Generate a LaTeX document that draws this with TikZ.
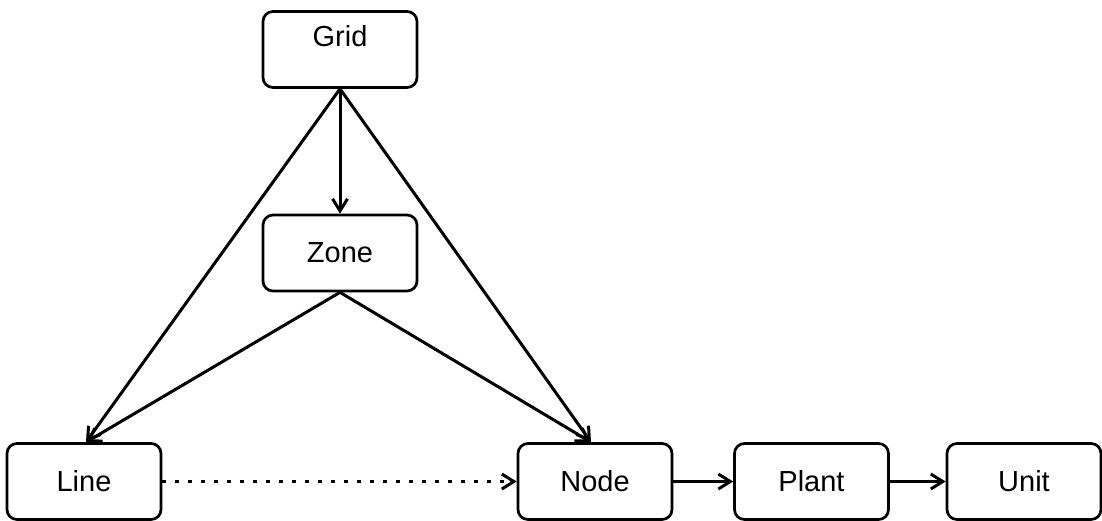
\documentclass[tikz,border=0pt]{standalone}
\usepackage{fontspec}
\setmainfont{Liberation Sans}
\usetikzlibrary{arrows.meta}
\tikzset{
  box/.style={draw, line width=2.7pt, rounded corners=10pt, minimum width=154pt,
    minimum height=76pt, inner sep=0pt, font=\fontsize{29}{34}\selectfont},
  lbl/.style={inner sep=0pt, font=\fontsize{29}{34}\selectfont},
  link/.style={line width=3pt, -{Straight Barb[length=12pt,width=15pt,line width=3pt]}},
  dottedlink/.style={link, dash pattern=on 4pt off 9pt},
}
\begin{document}
\begin{tikzpicture}[x=1pt,y=-1pt]
  \useasboundingbox (0,0) rectangle (1102,520);
  % boxes
  \node[box] (grid) at (340,49.5) {};
  \node[lbl, anchor=base] (gridtxt) at (340,46.5) {Grid};
  \node[box] (zone) at (340,253) {Zone};
  \node[box] (line) at (84,481.5) {Line};
  \node[box] (nd) at (595,481.5) {Node};
  \node[box] (plant) at (811.5,481.5) {Plant};
  \node[box] (unit) at (1024,481.5) {Unit};
  % connectors
  \draw[link] (grid.south) -- (zone.north);
  \draw[link] (grid.south) -- ([xshift=2pt]line.north);
  \draw[link] (grid.south) -- ([xshift=-4pt]nd.north);
  \draw[link] (zone.south) -- ([xshift=2pt]line.north);
  \draw[link] (zone.south) -- ([xshift=-4pt]nd.north);
  \draw[dottedlink] (line.east) -- (nd.west);
  \draw[link] (nd.east) -- (plant.west);
  \draw[link] (plant.east) -- (unit.west);
\end{tikzpicture}
\end{document}
